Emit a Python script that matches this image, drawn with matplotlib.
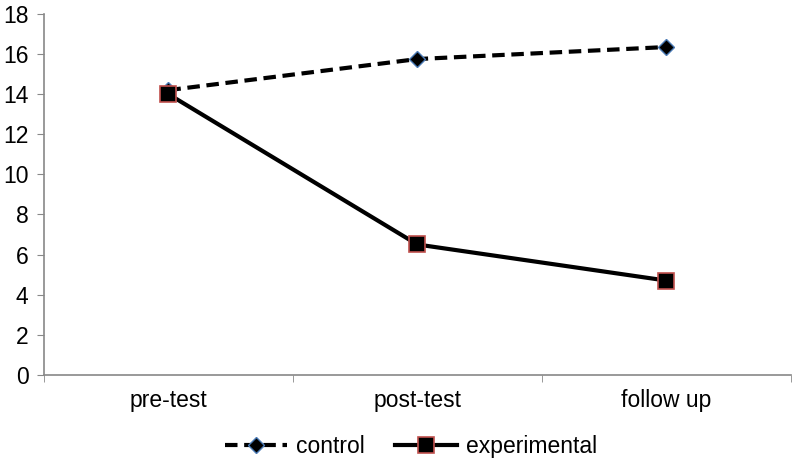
import matplotlib
matplotlib.use("Agg")
import matplotlib.pyplot as plt

plt.rcParams['font.family'] = ['Liberation Sans', 'DejaVu Sans']

stages = ['pre-test', 'post-test', 'follow up']
control = [14.2, 15.75, 16.35]
experimental = [14.0, 6.5, 4.7]

fig = plt.figure(figsize=(7.98, 4.65), dpi=100)
ax = fig.add_axes([0.055, 0.194, 0.936, 0.776])

x = range(len(stages))
ax.plot(x, control, color='black', lw=3, ls=(0, (3, 1.6)), marker='D', ms=8,
        markerfacecolor='black', markeredgecolor='#4a7ab5', markeredgewidth=1,
        label='control', zorder=3)
ax.plot(x, experimental, color='black', lw=3, marker='s', ms=12,
        markerfacecolor='black', markeredgecolor='#c0504d', markeredgewidth=1.2,
        label='experimental', zorder=4)

ax.set_xlim(-0.5, 2.5)
ax.set_ylim(0, 18)
ax.set_yticks(range(0, 19, 2))
ax.set_xticks(list(x))
ax.set_xticklabels(stages)
ax.set_xticks([-0.5, 0.5, 1.5, 2.5], minor=True)
ax.tick_params(axis='x', which='major', length=0, pad=10, labelsize=16.5)
ax.tick_params(axis='x', which='minor', length=5, color='#888888', direction='out')
ax.tick_params(axis='y', length=5, color='#888888', direction='out', labelsize=16.5, pad=6)

for s in ['top', 'right']:
    ax.spines[s].set_visible(False)
for s in ['left', 'bottom']:
    ax.spines[s].set_color('#888888')
    ax.spines[s].set_linewidth(1.2)

fig.legend(loc='lower center', bbox_to_anchor=(0.515, -0.03), ncol=2, frameon=False,
           fontsize=16.5, handlelength=2.7, handletextpad=0.4, columnspacing=1.3)

fig.savefig('out.png', dpi=100)
